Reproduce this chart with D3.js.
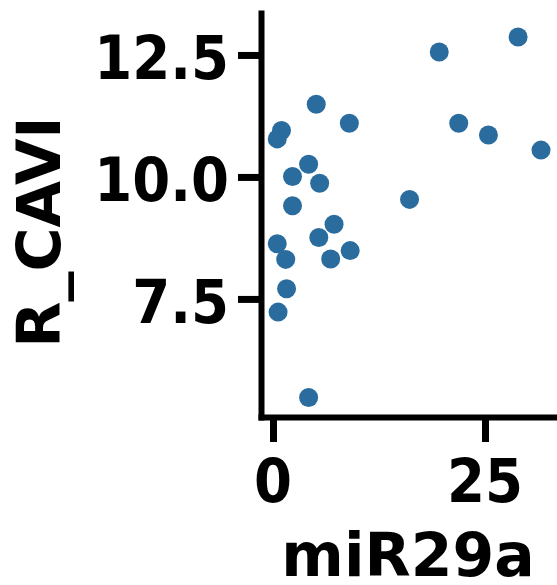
<!DOCTYPE html>
<html>
<head>
<meta charset="utf-8">
<script src="https://cdn.jsdelivr.net/npm/d3@7"></script>
<style>
  html, body { margin: 0; padding: 0; background: #ffffff; }
  svg { display: block; }
  text { font-family: "DejaVu Sans", sans-serif; font-weight: bold; fill: #000; }
</style>
</head>
<body>
<svg id="chart" width="557" height="585"></svg>
<script>
// Data
const mir29a = [19.6, 28.9, 5.1, 9.0, 1.0, 0.5, 21.9, 25.4, 31.6, 4.2, 2.3, 5.5, 16.1, 2.3, 7.2, 5.4, 0.5, 9.1, 1.5, 6.8, 1.6, 0.6, 4.2];
const rCavi  = [12.56, 12.87, 11.49, 11.10, 10.95, 10.78, 11.10, 10.86, 10.55, 10.26, 10.01, 9.87, 9.54, 9.41, 9.03, 8.76, 8.63, 8.49, 8.31, 8.32, 7.71, 7.23, 5.48];
const xTicks = [0, 25];
const yTicks = [7.5, 10.0, 12.5];
const xLabel = "miR29a";
const yLabel = "R_CAVI";

const svg = d3.select("#chart");
const points = mir29a.map((d, i) => ({ x: d, y: rCavi[i] }));

const x = d3.scaleLinear().domain([-1.415, 33.84]).range([261, 560]);
const y = d3.scaleLinear().domain([5.08, 13.36]).range([417, 13]);

const SPINE_W = 6, TICK_W = 7;

// points
svg.append("g").selectAll("circle").data(points).join("circle")
  .attr("cx", d => x(d.x))
  .attr("cy", d => y(d.y))
  .attr("r", 9.5)
  .attr("fill", "#2a6c9e");

// y axis
const gy = svg.append("g").attr("transform", "translate(261,0)")
  .call(d3.axisLeft(y).tickValues(yTicks).tickSize(23).tickSizeOuter(0).tickFormat(() => ""));
gy.select(".domain").attr("stroke", "#000").attr("stroke-width", SPINE_W).attr("stroke-linecap", "square");
gy.selectAll(".tick line").attr("stroke", "#000").attr("stroke-width", TICK_W);

// x axis
const gx = svg.append("g").attr("transform", "translate(0,417)")
  .call(d3.axisBottom(x).tickValues(xTicks).tickSize(25).tickSizeOuter(0).tickFormat(() => ""));
gx.select(".domain").attr("stroke", "#000").attr("stroke-width", SPINE_W).attr("stroke-linecap", "square");
gx.selectAll(".tick line").attr("stroke", "#000").attr("stroke-width", TICK_W);

// tick labels (slightly condensed, as in the reference)
const fmtY = d3.format(".1f");
svg.append("g").selectAll("text").data(yTicks).join("text")
  .attr("transform", d => `translate(229,${y(d) + 24}) scale(0.91,1)`)
  .attr("text-anchor", "end")
  .attr("font-size", 60)
  .text(d => fmtY(d));

svg.append("g").selectAll("text").data(xTicks).join("text")
  .attr("transform", d => `translate(${x(d)},502) scale(0.91,1)`)
  .attr("text-anchor", "middle")
  .attr("font-size", 60)
  .text(d => d);

// axis labels
svg.append("text")
  .attr("x", 408).attr("y", 576)
  .attr("text-anchor", "middle")
  .attr("font-size", 60)
  .text(xLabel);

svg.append("text")
  .attr("transform", "translate(60,232) rotate(-90)")
  .attr("text-anchor", "middle")
  .attr("font-size", 60)
  .text(yLabel);
</script>
</body>
</html>
